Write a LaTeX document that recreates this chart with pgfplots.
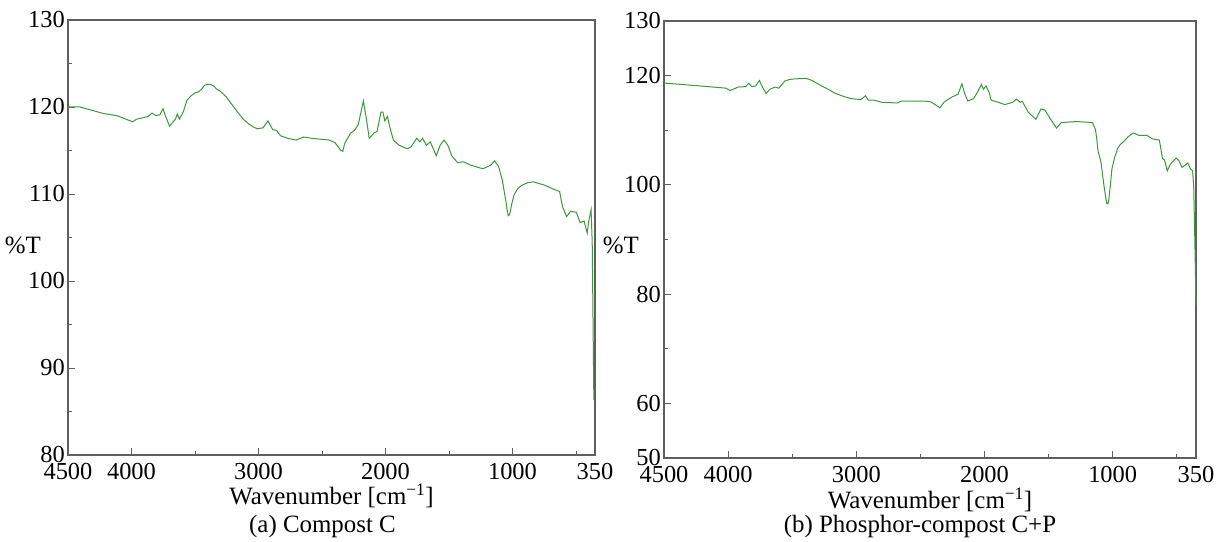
\documentclass[border=0pt]{standalone}
\usepackage{pgfplots}
\pgfplotsset{compat=1.18}
\usepackage{fontspec}
\setmainfont{Liberation Serif}
\definecolor{spec}{RGB}{60,152,60}
\definecolor{axgray}{RGB}{95,95,95}
\tikzset{labfont/.style={font=\fontsize{25}{28}\selectfont, inner sep=0pt}}
\pgfplotsset{
  ftir/.style={
    scale only axis,
    anchor=south west,
    x dir=reverse,
    xmin=350, xmax=4500,
    axis line style={axgray, line width=1.1bp},
    tick style={axgray, line width=0.9bp},
    tick align=inside,
    xtick pos=lower, ytick pos=left,
    major tick length=7bp, minor tick length=4bp,
    xtick={4500,4000,3000,2000,1000,350},
    minor xtick={3500,2500,1500,500},
    /pgf/number format/assume math mode=true,
    /pgf/number format/1000 sep={},
    tick label style={font=\fontsize{24.5}{26}\selectfont, text=black},
    yticklabel style={inner sep=0pt, xshift=-3bp},
    xticklabel style={inner sep=0pt, yshift=-8bp},
    clip=false,
  },
}
\pgfplotstableread{
w v
4500 120.0
4405 120.0
4221 119.25
4114 119.0
3991 118.3
3960 118.6
3869 118.9
3838 119.3
3807 119.0
3777 119.1
3752 119.8
3731 118.9
3700 117.8
3654 118.6
3639 119.2
3623 118.6
3593 119.4
3562 120.8
3530 121.3
3501 121.6
3470 121.75
3450 122.0
3424 122.5
3400 122.6
3378 122.6
3350 122.4
3332 122.1
3300 121.8
3256 121.2
3210 120.3
3164 119.4
3120 118.6
3072 118.0
3040 117.7
3010 117.5
2965 117.6
2925 118.4
2888 117.4
2857 117.3
2827 116.7
2770 116.4
2704 116.2
2643 116.55
2581 116.4
2443 116.2
2397 115.9
2351 115.0
2336 114.9
2321 115.8
2275 117.0
2244 117.3
2214 118.0
2174 120.7
2152 118.8
2128 116.4
2091 117.0
2066 117.2
2036 119.4
2020 119.4
2005 118.4
1984 118.9
1968 117.8
1938 116.2
1892 115.6
1830 115.2
1800 115.4
1754 116.4
1730 116.0
1708 116.4
1677 115.6
1647 116.0
1600 114.4
1570 115.6
1539 116.2
1509 115.6
1478 114.4
1432 113.6
1386 113.7
1325 113.3
1233 112.9
1172 113.3
1141 113.8
1110 113.2
1080 111.6
1065 110.3
1049 108.9
1040 108.0
1033 107.5
1025 107.6
1018 107.9
1005 108.9
987 109.9
960 110.6
926 111.0
880 111.3
834 111.4
790 111.2
743 111.0
700 110.7
651 110.4
629 110.3
605 108.5
574 107.4
543 108.0
497 107.9
467 106.7
436 106.9
411 105.5
399 106.9
381 108.2
372 104.5
359 86.3
}\specA
\pgfplotstableread{
w v
4500 118.64
4318 118.3
4166 118.0
4014 117.7
3984 117.25
3923 117.9
3862 118.0
3838 118.6
3816 118.0
3786 118.1
3756 119.1
3734 118.0
3704 116.75
3674 117.5
3634 117.9
3604 117.7
3558 119.0
3520 119.3
3482 119.4
3391 119.5
3345 119.1
3285 118.3
3220 117.5
3163 116.75
3100 116.2
3042 115.8
2966 115.6
2929 116.3
2905 115.5
2860 115.5
2799 115.1
2677 115.0
2647 115.35
2465 115.35
2419 115.2
2373 114.5
2349 114.1
2313 115.2
2252 116.1
2206 116.6
2176 118.5
2155 116.75
2130 115.35
2085 115.8
2054 117.0
2024 118.4
2009 117.5
1988 118.1
1963 116.9
1948 115.5
1903 115.2
1842 114.7
1781 115.1
1751 115.7
1720 115.1
1705 115.3
1659 113.3
1599 112.0
1559 113.9
1529 113.7
1492 112.3
1438 110.4
1401 111.4
1280 111.6
1158 111.4
1134 110.1
1125 108.5
1113 106.0
1100 105.0
1091 104.1
1080 102.0
1067 99.7
1055 97.8
1046 96.6
1038 96.5
1031 97.2
1020 99.5
1006 102.9
985 105.0
961 106.7
940 107.4
915 107.9
880 108.8
839 109.5
794 109.05
733 109.05
687 108.4
636 108.2
611 104.8
596 104.6
574 102.55
550 103.8
505 104.9
483 104.4
459 103.2
435 103.6
414 104.0
393 102.9
377 102.6
368 99.7
359 89.6
350 77.9
}\specB
\begin{document}
\begin{tikzpicture}[x=1bp,y=1bp]
\useasboundingbox (0,0) rectangle (1219,542);
\begin{axis}[ftir,
  at={(68bp,87bp)}, width=527bp, height=435bp,
  ymin=80, ymax=130,
  ytick={80,90,100,110,120,130},
  minor ytick={85,95,105,115,125},
]
\addplot[spec, line width=1.0bp] table[x=w,y=v] {\specA};
\node[labfont, anchor=east] at (rel axis cs:0,0.483) [xshift=-27bp] {\%T};
\node[labfont] at (rel axis cs:0.5,0) [yshift=-41bp] {Wavenumber [cm\textsuperscript{−1}]};
\node[labfont] at (rel axis cs:0.5,0) [yshift=-72bp, xshift=-9bp] {(a) Compost C};
\end{axis}
\begin{axis}[ftir,
  at={(664bp,84bp)}, width=532bp, height=437bp,
  ymin=50, ymax=130,
  ytick={50,60,80,100,120,130},
  minor ytick={70,90,110},
]
\addplot[spec, line width=1.0bp] table[x=w,y=v] {\specB};
\node[labfont, anchor=east] at (rel axis cs:0,0.487) [xshift=-25bp] {\%T};
\node[labfont] at (rel axis cs:0.5,0) [yshift=-42bp] {Wavenumber [cm\textsuperscript{−1}]};
\node[labfont] at (rel axis cs:0.5,0) [yshift=-69bp, xshift=-10bp] {(b) Phosphor-compost C+P};
\end{axis}
\end{tikzpicture}
\end{document}
